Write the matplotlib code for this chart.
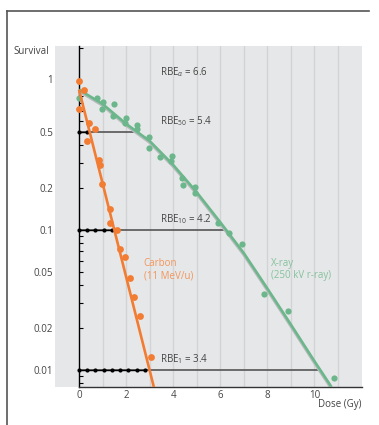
import matplotlib
matplotlib.use("Agg")
import matplotlib.pyplot as plt
import matplotlib.transforms as mtransforms
from matplotlib.lines import Line2D
from matplotlib.ticker import LogLocator, NullFormatter, FixedLocator, FixedFormatter

plt.rcParams['font.family'] = ['Open Sans', 'DejaVu Sans']
plt.rcParams['mathtext.fontset'] = 'custom'
plt.rcParams['mathtext.rm'] = 'Open Sans'
plt.rcParams['mathtext.it'] = 'Open Sans:italic'

# ---------------- data ----------------
carbon_dose = [0, 0.23, 0, 0.44, 0.68, 0.35, 0.86, 0.89, 0.96, 1.32, 1.32, 1.63, 1.74, 1.97, 2.17, 2.34, 2.60, 3.06]
carbon_surv = [1.15, 1.0, 0.724, 0.575, 0.524, 0.43, 0.315, 0.29, 0.211, 0.141, 0.111, 0.100, 0.0724, 0.0636, 0.0452, 0.0332, 0.0242, 0.0124]

xray_dose = [0, 0.75, 1.0, 0.96, 1.49, 1.43, 1.99, 1.96, 2.48, 2.47, 2.99, 2.97, 3.43, 3.94, 3.91, 4.39, 4.42, 4.93, 4.93, 5.92, 6.38, 6.91, 7.86, 8.87, 10.83]
xray_surv = [0.87, 0.87, 0.813, 0.728, 0.79, 0.65, 0.625, 0.575, 0.56, 0.52, 0.457, 0.386, 0.329, 0.338, 0.311, 0.232, 0.209, 0.202, 0.182, 0.112, 0.0947, 0.0787, 0.0346, 0.0261, 0.00865]

carbon_fit_dose = [0, 3.18]
carbon_fit_surv = [1.0, 0.0075]

xray_fit_dose = [0, 1, 2, 3, 4, 5, 6, 7, 8, 9, 10, 10.73]
xray_fit_surv = [1.0, 0.79, 0.57, 0.43, 0.29, 0.185, 0.113, 0.068, 0.038, 0.021, 0.0115, 0.0075]

# RBE reference levels: survival level, x-ray dose reached, carbon step marks
rbe_levels = [0.5, 0.1, 0.01]
rbe_xray_dose = [2.31, 6.2, 10.23]
rbe_marks = [[0, 0.35],
             [0, 0.35, 0.7, 1.05, 1.4],
             [0, 0.35, 0.7, 1.05, 1.4, 1.75, 2.1, 2.45, 2.8]]
rbe_labels = [r'RBE$_{50}$ = 5.4', r'RBE$_{10}$ = 4.2', r'RBE$_{1}$ = 3.4']
rbe_alpha_label = r'RBE$_{\alpha}$ = 6.6'
rbe_alpha_y = 1.33

ytick_vals = [1, 0.5, 0.2, 0.1, 0.05, 0.02, 0.01]
ytick_text = ['', '0.5', '0.2', '0.1', '0.05', '0.02', '0.01']
xtick_vals = [0, 2, 4, 6, 8, 10]

# ---------------- style ----------------
ORANGE = '#F27C32'
GREEN = '#6BB68A'
ORANGE_TXT = '#F2955A'
GREEN_TXT = '#86C29E'
BG = '#E6E7E8'
GRID = '#D2D3D5'
TXT = '#444444'

fig = plt.figure(figsize=(3.79, 4.25), dpi=100)
ax = fig.add_axes([55/379, 38/425, 307/379, 341/425])
ax.set_facecolor(BG)
ax.set_yscale('log')
ax.set_xlim(-1.02, 12.02)
ax.set_ylim(0.00752, 2.05)

for xv in range(1, 12):
    ax.axvline(xv, color=GRID, lw=1.0, zorder=0.5)

for sp in ['top', 'right']:
    ax.spines[sp].set_visible(False)
ax.spines['left'].set_position(('data', 0))
ax.spines['left'].set_color('black')
ax.spines['left'].set_linewidth(1.0)
ax.spines['bottom'].set_bounds(0, 12.02)
ax.spines['bottom'].set_color('#333333')
ax.spines['bottom'].set_linewidth(1.0)

ax.yaxis.set_major_locator(FixedLocator(ytick_vals))
ax.yaxis.set_major_formatter(FixedFormatter(ytick_text))
ax.yaxis.set_minor_locator(LogLocator(base=10, subs=range(2, 10)))
ax.yaxis.set_minor_formatter(NullFormatter())
ax.tick_params(axis='y', which='both', direction='in', length=3, width=0.8,
               color='black', labelsize=7, labelcolor=TXT, pad=18.5)
ax.set_xticks(xtick_vals)
ax.tick_params(axis='x', length=0, labelsize=7, labelcolor=TXT, pad=2.5)

# "1" label (drawn slightly above its tick, as in the reference)
ax.annotate('1', xy=(0, 1), xycoords=('axes fraction', 'data'),
            xytext=(-1.5, 6.5), textcoords='offset points',
            ha='right', va='center', fontsize=7, color=TXT)

ax.text(-0.02, 0.985, 'Survival', transform=ax.transAxes, ha='right', va='center',
        fontsize=7, color=TXT)
ax.text(1.0, -0.05, 'Dose (Gy)', transform=ax.transAxes, ha='right', va='center',
        fontsize=7, color=TXT)

# RBE lines
for lvl, xd, marks, lab in zip(rbe_levels, rbe_xray_dose, rbe_marks, rbe_labels):
    ax.plot([0, xd], [lvl, lvl], color='#555555', lw=1.2, zorder=2)
    ax.plot([marks[0], marks[-1]], [lvl, lvl], color='black', lw=1.0, zorder=2.1)
    ax.scatter(marks, [lvl] * len(marks), s=9, color='black', zorder=2.2, linewidths=0)
    ax.annotate(lab, xy=(3.46, lvl), xytext=(0, 2.5), textcoords='offset points',
                ha='left', va='bottom', fontsize=7, color=TXT)
ax.text(3.46, rbe_alpha_y, rbe_alpha_label, ha='left', va='center', fontsize=7, color=TXT)

# X-ray fit with grey shadow
shadow = mtransforms.offset_copy(ax.transData, fig=fig, x=-0.4, y=-1.1, units='points')
ax.plot(xray_fit_dose, xray_fit_surv, color='#B8BBBE', lw=1.6, transform=shadow,
        zorder=2.5, solid_capstyle='butt')
ax.plot(xray_fit_dose, xray_fit_surv, color=GREEN, lw=1.9, zorder=3, solid_capstyle='butt')
ax.scatter(xray_dose, xray_surv, s=20, color=GREEN, zorder=3.5, linewidths=0)

# Carbon fit
ax.plot(carbon_fit_dose, carbon_fit_surv, color=ORANGE, lw=1.9, zorder=4, solid_capstyle='butt')
ax.scatter(carbon_dose, carbon_surv, s=24, color=ORANGE, zorder=4.5, linewidths=0)

ax.text(2.75, 0.052, 'Carbon\n(11 MeV/u)', ha='left', va='center', fontsize=7,
        color=ORANGE_TXT, linespacing=1.15)
ax.text(8.15, 0.052, 'X-ray\n(250 kV r-ray)', ha='left', va='center', fontsize=7,
        color=GREEN_TXT, linespacing=1.15)

# frame lines
fig.add_artist(Line2D([7/379, 7/379], [0, 1 - 10.7/425], color='#555555', lw=1.2))
fig.add_artist(Line2D([7/379, 369/379], [1 - 10.7/425, 1 - 10.7/425], color='#555555', lw=1.2))

fig.savefig('out.png', dpi=100)
